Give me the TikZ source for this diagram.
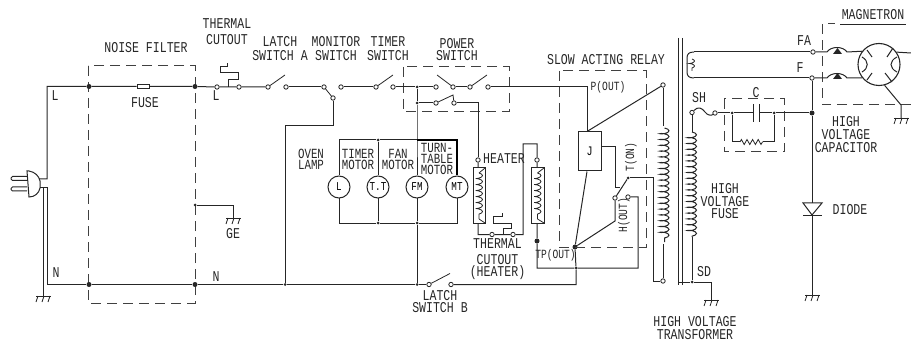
\documentclass[tikz,border=0pt]{standalone}
\usepackage{fontspec}
\setmainfont[FakeStretch=0.77]{Liberation Mono}
\usetikzlibrary{positioning}
\usetikzlibrary{decorations.pathmorphing}
\tikzset{
        wire/.style={line width=1pt, black!85},
        wire_thick/.style={line width=2.4pt, black},
        wire_thin/.style={line width=0.8pt, black!85},
        box_dashed/.style={line width=1pt, black!75, dash pattern=on 10pt off 6pt},
        % Terminals and junctions
        node_terminal/.style={circle, draw=black!85, line width=0.8pt, fill=white, inner sep=0pt, minimum size=4.4pt},
        node_dot/.style={circle, fill=black!85, inner sep=0pt, minimum size=5pt},
        node_dot_small/.style={circle, fill=black!85, inner sep=0pt, minimum size=3pt},
        % Motors
        node_motor/.style={circle, draw=black!85, line width=1pt, inner sep=0pt, minimum size=22pt, font=\fontsize{12}{12}\selectfont},
        % Texts
        node_label/.style={align=center, inner sep=0pt, text=black!85, font=\fontsize{15}{14}\selectfont},
        node_label_motor/.style={align=center, inner sep=0pt, text=black!85, font=\fontsize{14}{11}\selectfont},
        node_label_small/.style={align=center, inner sep=0pt, text=black!85, font=\fontsize{12.5}{12}\selectfont},
        coil_sym/.style={decorate, decoration={coil, aspect=0.3, amplitude=4.5pt, segment length=5.8pt}},
        coil_small/.style={decorate, decoration={coil, aspect=0.3, amplitude=3.5pt, segment length=6pt}},
        ground_sym/.pic={
            \draw[wire_thin] (-7,0) -- (8,0);
            \draw[wire_thin] (-5,0) -- (-7,6);
            \draw[wire_thin] (1,0) -- (-1,6);
            \draw[wire_thin] (7,0) -- (5,6);
        }
}
\begin{document}
\begin{tikzpicture}[x=1pt, y=-1pt]
    \useasboundingbox (0,0) rectangle (911,342);

    % Plug
    \draw[wire] (27,171) -- (29,171) .. controls (35,172) and (39,176) .. (40,181) -- (40,188) .. controls (39,193) and (35,197) .. (29,197) -- cycle;
    \draw[wire, rounded corners=1.5pt] (27,176.5) -- (11,176.5) -- (11,180.5) -- (27,180.5);
    \draw[wire, rounded corners=1.5pt] (27,187) -- (11,187) -- (11,191) -- (27,191);
    \coordinate (plug_l) at (39,179);
    \coordinate (plug_n) at (40,188);
    \coordinate (corner_l) at (47,86.5);
    \coordinate (corner_n) at (47,284.5);
    \coordinate (gnd_plug) at (43,296);
    \coordinate (plug_e) at (43,188);

    % Noise filter
    \draw[box_dashed] (88,66) rectangle (195,303);
    \node[node_dot] (filter_l_in) at (89,86.5) {};
    \node[node_dot] (filter_l_out) at (195,86.5) {};
    \node[node_dot] (filter_n_in) at (89,284.5) {};
    \node[node_dot] (filter_n_out) at (195,284.5) {};
    \node[draw=black!85, line width=0.8pt, inner sep=0pt, minimum width=12pt, minimum height=4pt] (fuse_line) at (143,86.5) {};
    \node[node_dot_small] (filter_ge) at (195,205) {};
    \coordinate (gnd_filter) at (233,218);

    % Switches along the L line
    \node[node_terminal] (tc_in) at (217,87) {};
    \node[node_terminal] (tc_out) at (239,87) {};
    \coordinate (tc_mid) at (228,87);
    \node[node_terminal] (latch_a_in) at (268,87) {};
    \node[node_terminal] (latch_a_out) at (286,87) {};
    \node[node_terminal] (monitor_in) at (324,87) {};
    \node[node_terminal] (monitor_nc) at (341,87) {};
    \node[node_terminal] (monitor_no) at (333,98) {};
    \node[node_terminal] (timer_in) at (376,87) {};
    \node[node_terminal] (timer_out) at (393,87) {};
    \coordinate (monitor_corner) at (285,125.5);
    \node[node_dot_small] (lamp_n) at (285,284.5) {};

    % Power switch
    \draw[box_dashed] (403,67) rectangle (509,112);
    \node[node_dot_small] (power_top) at (417,87) {};
    \node[node_dot_small] (power_low) at (417,103) {};
    \node[node_terminal] (power_a) at (436,87) {};
    \node[node_terminal] (power_b) at (453,87) {};
    \node[node_terminal] (power_c) at (470,87) {};
    \node[node_terminal] (power_d) at (488,87) {};
    \node[node_terminal] (power_e) at (436,103) {};
    \node[node_terminal] (power_f) at (454,103) {};
    \coordinate (power_corner) at (478,103);

    % Motors
    \node[node_motor] (motor_l) at (339,187) {L};
    \node[node_motor] (motor_tt) at (378,187) {T.T};
    \node[node_motor] (motor_fm) at (417,187) {FM};
    \node[node_motor] (motor_mt) at (457,187) {MT};
    \node[node_dot_small] (bus_tt) at (378,223) {};
    \node[node_dot_small] (bus_fm) at (417,223) {};
    \node[node_dot_small] (top_tt) at (378,140) {};
    \coordinate (top_l) at (339,140);
    \coordinate (top_fm) at (417,140);
    \coordinate (top_mt) at (457,140);
    \coordinate (bus_l) at (339,223);
    \coordinate (bus_mt) at (457,223);
    \node[node_dot_small] (latch_b_tap) at (417,284.5) {};
    \node[node_terminal] (latch_b_in) at (429,284.5) {};
    \node[node_terminal] (latch_b_out) at (451,284.5) {};

    % Heaters
    \node[node_terminal] (heater_a_top) at (478,160) {};
    \node[draw=black!85, line width=1pt, inner sep=0pt, minimum width=12pt, minimum height=55pt] (heater_a) at (479,195.5) {};
    \coordinate (heater_a_bot) at (478,234.5);
    \node[node_terminal] (tch_in) at (492,234.5) {};
    \node[node_terminal] (tch_out) at (513,234.5) {};
    \coordinate (tch_mid) at (503,234.5);
    \coordinate (tch_right) at (523,234.5);
    \coordinate (tch_top) at (523,144);
    \coordinate (tch_turn) at (537,144);
    \node[node_terminal] (heater_b_top) at (537,160) {};
    \node[draw=black!85, line width=1pt, inner sep=0pt, minimum width=13pt, minimum height=56pt] (heater_b) at (537.5,195.5) {};
    \node[node_dot] (heater_b_dot) at (537,241) {};
    \coordinate (heater_b_corner) at (537,268);
    \node[node_dot_small] (tp_low) at (576,268) {};
    \coordinate (tp_bot) at (576,284.5);
    \node[node_dot] (tp_dot) at (575,247) {};

    % Slow acting relay
    \draw[box_dashed] (559,71) rectangle (646,247);
    \coordinate (relay_out) at (587,87);
    \node[draw=black!85, line width=1pt, inner sep=0pt, minimum width=23pt, minimum height=39pt, font=\fontsize{13}{13}\selectfont] (relay_j) at (589.5,151.5) {J};
    \node[node_terminal] (prim_top) at (663,85) {};
    \node[node_terminal] (prim_bot) at (663,281) {};
    \node[node_dot_small] (relay_t) at (628,178) {};
    \node[node_terminal] (relay_h) at (615,198) {};
    \node[node_terminal] (relay_o) at (628,197) {};
    \coordinate (relay_h_low) at (615,221);
    \coordinate (relay_o_corner) at (638,197);
    \coordinate (relay_o_low) at (638,268);
    \coordinate (prim_left) at (653,178);
    \coordinate (prim_left_low) at (653,281);

    % Transformer
    \coordinate (core_a_top) at (678,38);
    \coordinate (core_a_bot) at (678,285);
    \coordinate (core_b_top) at (682,38);
    \coordinate (core_b_bot) at (682,285);
    \node[node_terminal] (term_sh) at (692,112.5) {};
    \coordinate (sec_top) at (692,132);
    \coordinate (sec_bot) at (692,237);
    \node[node_dot_small] (term_sd) at (692,282) {};
    \coordinate (core_tap) at (678,282);
    \coordinate (sd_corner) at (711,282);
    \coordinate (gnd_sd) at (711,300);
    \node[node_terminal] (term_fa) at (813,52) {};
    \node[node_terminal] (term_f) at (812,78) {};

    % High voltage capacitor and diode
    \node[node_terminal] (fuse_out) at (715,113) {};
    \node[node_dot_small] (cap_left) at (732,113) {};
    \node[node_dot_small] (cap_right) at (774,113) {};
    \node[node_dot] (hv_dot) at (812,113) {};
    \coordinate (cap_a) at (753,113);
    \coordinate (cap_b) at (759,113);
    \coordinate (res_a) at (740,142);
    \coordinate (res_b) at (763,142);
    \coordinate (diode_a) at (812,203);
    \coordinate (diode_k) at (812,216);
    \coordinate (gnd_diode) at (812,295);
    \draw[box_dashed] (724,99) rectangle (784,152);

    % Magnetron
    \draw[box_dashed] (911,105) -- (822,105) -- (822,24) -- (835,24);
    \draw[wire_thin] (840,24) -- (906,24);
    \node[circle, draw=black!85, line width=1.1pt, inner sep=0pt, minimum size=42pt] (magnetron) at (879,64.5) {};
    \coordinate (mag_gnd) at (901,105);
    \coordinate (gnd_mag) at (901,118);
    \coordinate (mag_right) at (911,53);
    \coordinate (fa_a) at (827,52);
    \coordinate (fa_b) at (847,52);
    \coordinate (f_a) at (827,78);
    \coordinate (f_b) at (847,78);

    % Wires
    \draw[wire] (plug_l) -| (corner_l) -- (filter_l_in) -- (fuse_line) -- (filter_l_out) -- (tc_in) -- (tc_out) -- (latch_a_in);
    \draw[wire] (plug_n) -| (corner_n) -- (filter_n_in) -- (filter_n_out) -- (lamp_n) -- (latch_b_tap) -- (latch_b_in);
    \draw[wire] (latch_b_out) -- (tp_bot) -- (tp_low) -- (tp_dot);
    \draw[wire] (plug_e) -- (gnd_plug);
    \draw[wire_thin] (filter_ge) -| (gnd_filter);
    \draw[wire] (tc_mid) -- ++(0,-7) -- ++(10,0) -- ++(0,-7) -- ++(-18,0) -- ++(0,-6) -- ++(7,0) -- ++(0,-4);
    \draw[wire] (latch_a_out) -- (monitor_in);
    \draw[wire] (monitor_nc) -- (timer_in);
    \draw[wire] (timer_out) -- (power_top) -- (power_a);
    \draw[wire] (monitor_no) |- (monitor_corner) -- (lamp_n);
    \draw[wire] (power_b) -- (power_c);
    \draw[wire] (power_d) -| (relay_out) -- (relay_j.north -| relay_out);
    \draw[wire] (power_top) -- (power_low) -- (power_e);
    \draw[wire] (power_f) -| (power_corner) -- (heater_a_top);
    \draw[wire] (power_low) -- (top_fm) -- (motor_fm);
    \draw[wire] (motor_fm) -- (bus_fm) -- (latch_b_tap);
    \draw[wire] (top_fm) -- (top_tt) -- (top_l) -- (motor_l);
    \draw[wire] (top_tt) -- (motor_tt);
    \draw[wire] (motor_tt) -- (bus_tt);
    \draw[wire] (motor_l) -- (bus_l) -- (bus_tt) -- (bus_fm) -- (bus_mt) -- (motor_mt);
    \draw[wire_thick] (top_fm) -- (top_mt) -- (motor_mt);
    % Switch blades
    \draw[wire_thin] (latch_a_in) -- ++(17,-12);
    \draw[wire_thin] (monitor_in) -- (monitor_no);
    \draw[wire_thin] (timer_in) -- ++(17,-12);
    \draw[wire_thin] (power_b) -- ++(-16,-12);
    \draw[wire_thin] (power_c) -- ++(17,-12);
    \draw[wire_thin] (power_e) -- ++(17,-8) -- (power_f);
    \draw[wire_thin] (latch_b_in) -- ++(21,-11);
    % Heaters and their cutout
    \draw[wire] (heater_a_top) -- (heater_a);
    \draw[wire_thin, coil_small] (479,173) -- (479,219);
    \draw[wire_thin] (485,168) -- (479,173);
    \draw[wire_thin] (479,219) -- (485,223);
    \draw[wire] (heater_a.south -| heater_a_bot) -- (heater_a_bot) -- (tch_in) -- (tch_out) -- (tch_right) -- (tch_top) -- (tch_turn) -- (heater_b_top) -- (heater_b);
    \draw[wire] (tch_mid) -- ++(0,-6) -- ++(8,0) -- ++(0,-5) -- ++(-18,0) -- ++(0,-6.5) -- ++(9,0) -- ++(0,-4);
    \draw[wire_thin, coil_small] (537.5,173) -- (537.5,219);
    \draw[wire_thin] (544,168) -- (537.5,173);
    \draw[wire_thin] (537.5,219) -- (544,223);
    \draw[wire] (heater_b) -- (heater_b_dot) -- (heater_b_corner) -- (tp_low) -- (relay_o_low) -- (relay_o_corner) -- (relay_o);
    % Relay
    \draw[wire] (relay_j.north -| relay_out) -- (prim_top);
    \draw[wire] (relay_j.south -| relay_out) -- (tp_dot);
    \draw[wire_thin] (relay_j.east |- 0,146) -- (615,146) -- (615,187) -- (620,187);
    \draw[wire] (relay_h) -- (relay_t);
    \draw[wire] (relay_h) -- (relay_h_low) -- (tp_dot);
    \draw[wire] (relay_t) -- (prim_left) -- (prim_left_low) -- (prim_bot);
    \draw[wire] (prim_top) -- (663,126);
    \draw[wire, coil_sym] (664.5,128) -- (664.5,242);
    \draw[wire] (663,244) -- (prim_bot);
    % Transformer
    \draw[wire] (core_a_top) -- (core_a_bot);
    \draw[wire] (core_b_top) -- (core_b_bot);
    \draw[wire] (term_sh) -- (sec_top);
    \draw[wire, coil_sym] (sec_top) -- (sec_bot);
    \draw[wire] (sec_bot) -- (term_sd);
    \draw[wire] (core_tap) -- (term_sd) -- (sd_corner) -- (gnd_sd);
    \draw[wire] (694,52) .. controls (689,52) and (687,54) .. (687,58) -- (687,72) .. controls (687,76) and (689,78) .. (694,78);
    \draw[wire] (694,52) -- (term_fa);
    \draw[wire] (694,78) -- (term_f);
    \draw[wire_thin, decorate, decoration={coil, aspect=0.3, amplitude=2.5pt, segment length=5pt}] (692,59) -- (692,71);
    % Fuse, capacitor, resistor
    \draw[wire] (term_sh) .. controls (698,106) and (702,108) .. (705,112) .. controls (707,115) and (711,116) .. (fuse_out);
    \draw[wire] (fuse_out) -- (cap_left) -- (cap_a);
    \draw[wire] (cap_b) -- (cap_right) -- (hv_dot);
    \draw[wire] (753,104) -- (753,122);
    \draw[wire] (759,104) -- (759,122);
    \draw[wire] (cap_left) |- (res_a);
    \draw[wire_thin, decorate, decoration={zigzag, amplitude=2.5pt, segment length=5.6pt}] (res_a) -- (res_b);
    \draw[wire] (res_b) -| (cap_right);
    \draw[wire] (term_f) -- (hv_dot) -- (diode_a);
    \draw[wire] (803,203) -- (822,203) -- (812,215) -- cycle;
    \draw[wire] (803,216) -- (822,216);
    \draw[wire] (diode_k) -- (gnd_diode);
    % Magnetron
    \draw[wire] (term_fa) -- (fa_a) .. controls (831,46) and (843,46) .. (fa_b) -- (magnetron.142);
    \draw[wire] (term_f) -- (f_a) .. controls (831,72) and (843,72) .. (f_b) -- (magnetron.218);
    \fill[black!85] (833,54) -- (842,54) -- (837.5,48) -- cycle;
    \fill[black!85] (833,79) -- (842,79) -- (837.5,73) -- cycle;
    \draw[wire] (magnetron.35) -- (mag_right);
    \draw[wire] (magnetron.285) -- (mag_gnd) -- (gnd_mag);
    \draw[wire] (867,50) -- (872,57);
    \draw[wire] (887,57) -- (893,48);
    \draw[wire] (867,80) -- (872,73);
    \draw[wire] (885,73) -- (892,82);
    \draw[wire] (862,57) .. controls (869,61) and (869,68) .. (862,72);
    \draw[wire] (897,57) .. controls (889,61) and (889,68) .. (897,72);

    % Grounds
    \pic at (gnd_plug) {ground_sym};
    \pic at (gnd_filter) {ground_sym};
    \pic at (gnd_sd) {ground_sym};
    \pic at (gnd_diode) {ground_sym};
    \pic at (gnd_mag) {ground_sym};

    % Texts
    \node[node_label] (lbl_noise) at (146,48) {NOISE FILTER};
    \node[node_label] (lbl_fuse) at (145,103) {FUSE};
    \node[node_label] (lbl_l_in) at (55,96) {L};
    \node[node_label] (lbl_n_in) at (56,273) {N};
    \node[node_label] (lbl_l_out) at (216,96) {L};
    \node[node_label] (lbl_n_out) at (216,277) {N};
    \node[node_label] (lbl_ge) at (233,234) {GE};
    \node[node_label] (lbl_tc) at (227,32) {THERMAL\\[2pt]CUTOUT};
    \node[node_label] (lbl_latch_a) at (280,49) {LATCH\hspace{14pt}\\SWITCH A};
    \node[node_label] (lbl_monitor) at (336,49) {MONITOR\\SWITCH};
    \node[node_label] (lbl_timer) at (388,49) {TIMER\\SWITCH};
    \node[node_label] (lbl_power) at (457,50) {POWER\\[-2pt]SWITCH};
    \node[node_label] (lbl_relay) at (606,60) {SLOW ACTING RELAY};
    \node[node_label_motor] (lbl_oven) at (311,159) {OVEN\\LAMP};
    \node[node_label_motor] (lbl_timer_m) at (358,159) {TIMER\\MOTOR};
    \node[node_label_motor] (lbl_fan) at (398,159) {FAN\\MOTOR};
    \node[node_label_motor] (lbl_turn) at (437,159) {TURN-\\TABLE\\MOTOR};
    \node[node_label] (lbl_heater) at (504,159) {HEATER};
    \node[node_label] (lbl_tch) at (497.5,259) {THERMAL\\[2pt]CUTOUT\\[-2pt](HEATER)};
    \node[node_label] (lbl_latch_b) at (440,301.5) {LATCH\hspace{7pt}\\[-2pt]SWITCH B};
    \node[node_label_small] (lbl_tp) at (555.5,255) {TP(OUT)};
    \node[node_label_small] (lbl_p) at (608,87) {P(OUT)};
    \node[node_label_small, rotate=90] (lbl_t_on) at (631,157) {T(ON)};
    \node[node_label_small, rotate=90] (lbl_h_out) at (624,215) {H(OUT)};
    \node[node_label] (lbl_sh) at (699,98) {SH};
    \node[node_label] (lbl_sd) at (704,272) {SD};
    \node[node_label] (lbl_fa) at (804,41) {FA};
    \node[node_label] (lbl_f) at (800,68) {F};
    \node[node_label] (lbl_c) at (756,93) {C};
    \node[node_label] (lbl_hv_fuse) at (725,201) {HIGH\hspace{21pt}\\[-1pt]VOLTAGE\\[-2pt]FUSE\hspace{21pt}};
    \node[node_label] (lbl_hv_cap) at (846,135) {HIGH\\[-1pt]VOLTAGE\\[-1pt]CAPACITOR};
    \node[node_label] (lbl_diode) at (850,210) {DIODE};
    \node[node_label] (lbl_hv_tr) at (695,328.5) {HIGH VOLTAGE\\[-1pt]TRANSFORMER};
    \node[node_label] (lbl_mag) at (873,15) {MAGNETRON};
\end{tikzpicture}
\end{document}
